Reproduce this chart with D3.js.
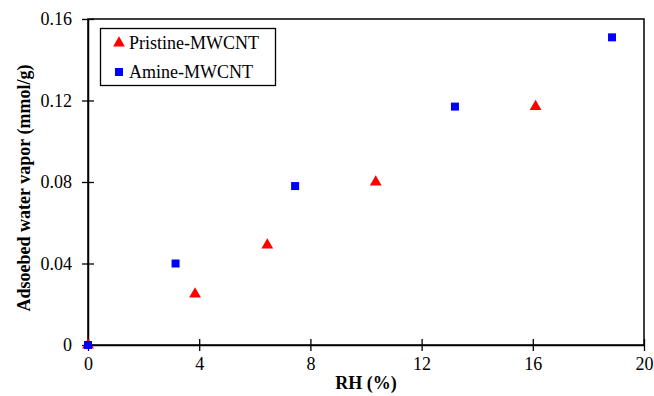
<!DOCTYPE html>
<html>
<head>
<meta charset="utf-8">
<script src="https://cdn.jsdelivr.net/npm/d3@7"></script>
<style>
  html, body { margin: 0; padding: 0; background: #fff; }
  svg text { font-family: "Liberation Serif", "Times New Roman", Tinos, serif !important; }
</style>
</head>
<body>
<svg id="chart" width="654" height="396"></svg>
<script>
// Relative humidity (%) and adsorbed water vapor (mmol/g)
const pristineRH = [0, 3.85, 6.45, 10.35, 16.1];
const pristineUptake = [0, 0.025, 0.049, 0.080, 0.117];
const amineRH = [0, 3.15, 7.45, 13.2, 18.85];
const amineUptake = [0, 0.040, 0.078, 0.117, 0.151];

const xTicks = [0, 4, 8, 12, 16, 20];
const yTicks = [0, 0.04, 0.08, 0.12, 0.16];
const seriesNames = ["Pristine-MWCNT", "Amine-MWCNT"];

const FONT = "'Liberation Serif', 'Times New Roman', serif";
const svg = d3.select("#chart");
const margin = { left: 88, right: 10, top: 19, bottom: 51 };
const W = 654, H = 396;

const x = d3.scaleLinear().domain([0, 20]).range([margin.left, W - margin.right]);
const y = d3.scaleLinear().domain([0, 0.16]).range([H - margin.bottom, margin.top]);

// plot frame
svg.append("rect")
  .attr("x", x(0)).attr("y", y(0.16))
  .attr("width", x(20) - x(0)).attr("height", y(0) - y(0.16))
  .attr("fill", "none").attr("stroke", "#000").attr("stroke-width", 1.5);

// axes with ticks crossing the axis line
const xAxis = d3.axisBottom(x).tickValues(xTicks).tickFormat(d3.format("d"))
  .tickSizeInner(6).tickSizeOuter(0).tickPadding(6);
const gx = svg.append("g").attr("transform", `translate(0,${y(0)})`).call(xAxis)
  .attr("font-family", FONT);
gx.select(".domain").attr("stroke-width", 1.5);
gx.selectAll(".tick line").attr("y1", -6).attr("stroke-width", 1.3);
gx.selectAll(".tick text").attr("font-size", 18).attr("fill", "#000");

const yFmt = d => d === 0 ? "0" : d3.format(".2f")(d);
const yAxis = d3.axisLeft(y).tickValues(yTicks).tickFormat(yFmt)
  .tickSizeInner(6).tickSizeOuter(0).tickPadding(10);
const gy = svg.append("g").attr("transform", `translate(${x(0)},0)`).call(yAxis)
  .attr("font-family", FONT);
gy.select(".domain").attr("stroke-width", 1.5);
gy.selectAll(".tick line").attr("x2", 6).attr("x1", -6).attr("stroke-width", 1.3);
gy.selectAll(".tick text").attr("font-size", 18).attr("fill", "#000");

// axis titles
svg.append("text")
  .attr("x", (x(0) + x(20)) / 2).attr("y", 389)
  .attr("text-anchor", "middle").attr("font-size", 18).attr("font-weight", "bold")
  .text("RH (%)");
svg.append("text")
  .attr("transform", `translate(30,${188}) rotate(-90)`)
  .attr("text-anchor", "middle").attr("font-size", 18).attr("font-weight", "bold")
  .text("Adsoebed water vapor (mmol/g)");

// markers
const tri = d3.symbol().type(d3.symbolTriangle).size(60);
const sq = d3.symbol().type(d3.symbolSquare).size(64);

svg.append("g").selectAll("path")
  .data(pristineRH.map((r, i) => [r, pristineUptake[i]]))
  .join("path")
  .attr("d", tri)
  .attr("transform", d => `translate(${x(d[0])},${y(d[1])})`)
  .attr("fill", "#ff0000");

svg.append("g").selectAll("path")
  .data(amineRH.map((r, i) => [r, amineUptake[i]]))
  .join("path")
  .attr("d", sq)
  .attr("transform", d => `translate(${x(d[0])},${y(d[1])})`)
  .attr("fill", "#0000ff");

// legend
const lg = svg.append("g");
lg.append("rect").attr("x", 100.5).attr("y", 28.5).attr("width", 175).attr("height", 57)
  .attr("fill", "#fff").attr("stroke", "#000").attr("stroke-width", 1.3);
const legendItems = [
  { name: seriesNames[0], sym: tri, color: "#ff0000", cy: 43 },
  { name: seriesNames[1], sym: sq, color: "#0000ff", cy: 72 }
];
legendItems.forEach(it => {
  lg.append("path").attr("d", it.sym).attr("transform", `translate(119,${it.cy})`).attr("fill", it.color);
  lg.append("text").attr("x", 129).attr("y", it.cy + 6).attr("font-size", 18).text(it.name);
});
</script>
</body>
</html>
